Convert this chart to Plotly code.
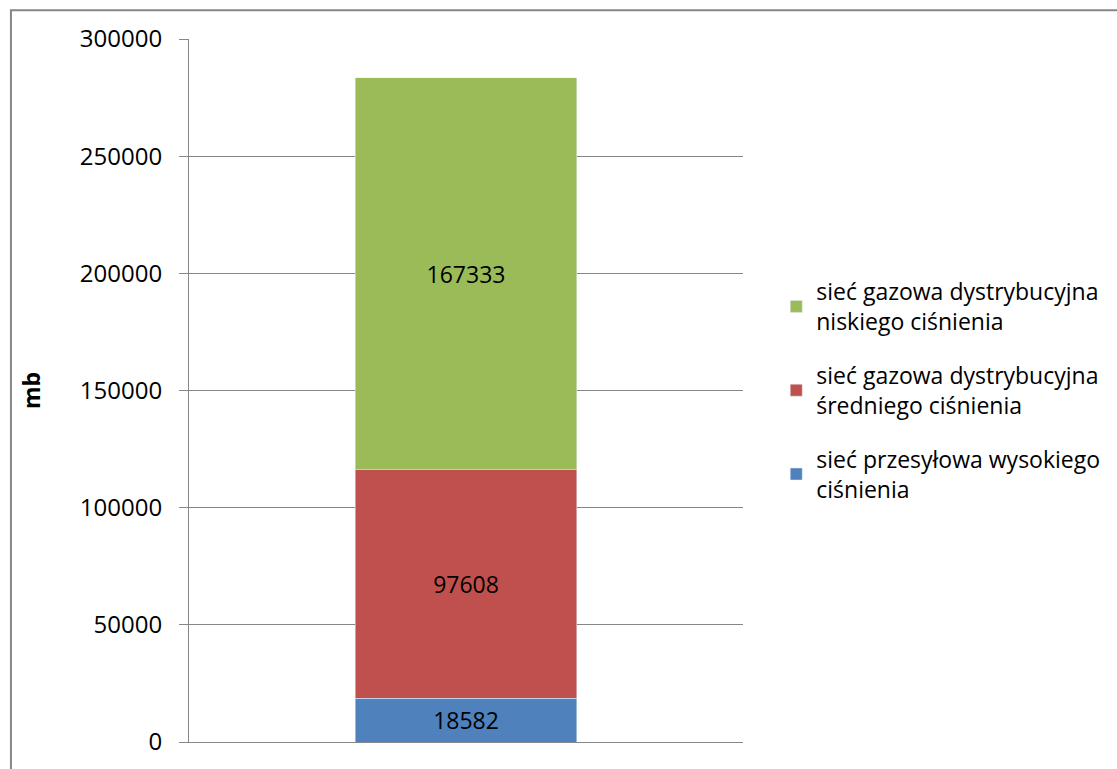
import plotly.graph_objects as go

categories = [""]
series_names = [
    "sieć przesyłowa wysokiego<br>ciśnienia",
    "sieć gazowa dystrybucyjna<br>średniego ciśnienia",
    "sieć gazowa dystrybucyjna<br>niskiego ciśnienia",
]
series_values = [[18582], [97608], [167333]]
colors = ["#4F81BD", "#C0504D", "#9BBB59"]
y_ticks = [0, 50000, 100000, 150000, 200000, 250000, 300000]

FONT = "Open Sans"
FS = 23
fig = go.Figure()
n = len(series_names)
for i, (name, vals, col) in enumerate(zip(series_names, series_values, colors)):
    fig.add_trace(go.Bar(
        x=categories, y=vals, name=name, marker_color=col, width=0.4,
        text=[str(v) for v in vals], textposition="inside", insidetextanchor="middle",
        textangle=0, textfont=dict(color="black", size=FS, family=FONT),
        legendgroup=f"g{i}", legendrank=n - i,
    ))

fig.update_layout(
    barmode="stack",
    width=1117, height=769,
    margin=dict(l=189, r=368, t=39, b=23),
    paper_bgcolor="white", plot_bgcolor="white",
    font=dict(family=FONT, size=FS, color="black"),
    showlegend=True,
    legend=dict(x=1.06, y=0.5, xanchor="left", yanchor="middle",
                traceorder="grouped", tracegroupgap=21,
                font=dict(size=FS, family=FONT), itemwidth=30),
    xaxis=dict(showticklabels=False, showline=True, linecolor="#868686", linewidth=1,
               showgrid=False, range=[-0.5, 0.5]),
    yaxis=dict(range=[0, 300000], tickvals=y_ticks, ticktext=[str(t) for t in y_ticks],
               showgrid=True, gridcolor="#868686", gridwidth=1,
               showline=True, linecolor="#868686", linewidth=1,
               ticks="outside", ticklen=9, tickcolor="#868686",
               ticklabelstandoff=12,
               tickfont=dict(size=24, family=FONT),
               title=dict(text="<b>mb</b>", font=dict(size=FS, family=FONT), standoff=32),
               zeroline=False),
    shapes=[dict(type="rect", xref="paper", yref="paper",
                 x0=(9 - 189) / 560, x1=(1130 - 189) / 560,
                 y0=(746 - 790) / 707, y1=(746 - 10) / 707,
                 line=dict(color="#868686", width=2), fillcolor="rgba(0,0,0,0)", layer="below")],
)

post = (
    "document.documentElement.style.overflow='hidden';"
    "document.documentElement.style.margin='0';"
    "document.body.style.margin='0';"
    "document.body.style.overflow='hidden';"
    "document.body.style.height='769px';"
    "var d=document.querySelector('.plotly-graph-div');"
    "if(d){d.style.display='block';d.parentNode.style.height='769px';d.parentNode.style.overflow='hidden';}"
)
fig.write_html("out.html", config={"displayModeBar": False}, post_script=post)
